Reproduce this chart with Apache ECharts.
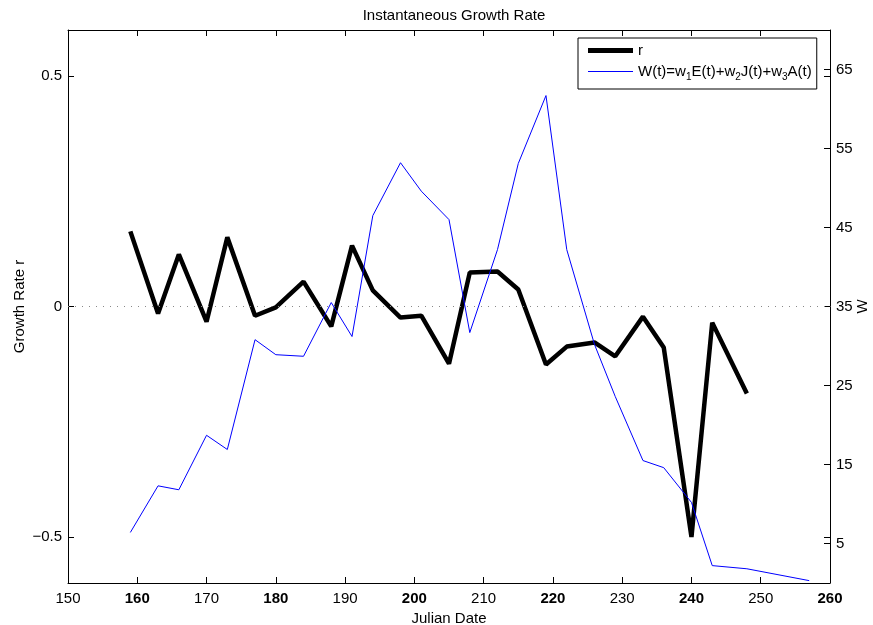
<!DOCTYPE html>
<html><head><meta charset="utf-8">
<script src="https://cdn.jsdelivr.net/npm/echarts@6/dist/echarts.min.js"></script>
<style>html,body{margin:0;padding:0;background:#fff}#c{width:873px;height:625px}</style>
</head><body><div id="c"></div>
<script>
const titleText = 'Instantaneous Growth Rate';
const days = [159,163,166,170,173,177,180,184,188,191,194,198,201,205,208,212,215,219,222,226,229,233,236,240,243,248,257];
const rDays = [159,163,166,170,173,177,180,184,188,191,194,198,201,205,208,212,215,219,222,226,229,233,236,240,243,248];
const rValues = [0.163,-0.015,0.113,-0.033,0.150,-0.020,-0.002,0.054,-0.043,0.132,0.035,-0.024,-0.020,-0.124,0.074,0.076,0.037,-0.126,-0.087,-0.078,-0.108,-0.022,-0.089,-0.500,-0.035,-0.189];
const wValues = [6.4,12.3,11.8,18.7,16.9,30.8,28.9,28.7,35.5,31.2,46.5,53.2,49.6,46.0,31.7,42.2,53.1,61.7,42.2,30.2,23.6,15.5,14.6,10.2,2.2,1.8,0.3];
const leftTicks = [-0.5, 0, 0.5];
const rightTicks = [5, 15, 25, 35, 45, 55, 65];
const rName = 'r';
const wName = 'W(t)=w1E(t)+w2J(t)+w3A(t)';

const FONT = '"Liberation Sans", Arial, Helvetica, sans-serif';
const FS = 15;
const L_MIN = -0.6, L_MAX = 0.6, R_MIN = 0, R_MAX = 70;
// left ticks mirrored on the right axis (as in the reference)
const mirrored = leftTicks.map(v => R_MIN + (v - L_MIN) / (L_MAX - L_MIN) * (R_MAX - R_MIN));

const chart = echarts.init(document.getElementById('c'), null, {renderer: 'canvas'});
const axisCommon = {
  axisLine: {show: true, onZero: false, lineStyle: {color: '#000', width: 1}},
  axisTick: {show: true, inside: true, length: 6, lineStyle: {color: '#000'}},
  splitLine: {show: false},
  nameMoveOverlap: false
};
chart.setOption({
  animation: false,
  backgroundColor: '#fff',
  textStyle: {fontFamily: FONT},
  title: {text: titleText, left: 449, textAlign: 'center', top: 3,
    textStyle: {fontSize: FS, fontWeight: 'normal', color: '#000', fontFamily: FONT}},
  grid: {left: 68, right: 43, top: 30, bottom: 42, outerBoundsMode: 'none', containLabel: false},
  legend: {
    orient: 'vertical', left: 578, top: 38,
    padding: [5, 5, 7, 10], itemGap: 6, itemWidth: 45, itemHeight: 14,
    borderColor: '#000', borderWidth: 1, backgroundColor: '#fff', borderRadius: 0,
    data: [
      {name: rName, icon: 'path://M0,0H45V5H0Z'},
      {name: wName, icon: 'path://M0,0H45V1H0Z'}
    ],
    formatter: n => n === rName ? 'r' : 'W(t)=w{s|1}E(t)+w{s|2}J(t)+w{s|3}A(t)',
    textStyle: {fontSize: FS, color: '#000', fontFamily: FONT,
      rich: {s: {fontSize: 10, padding: [11, 0, 0, 0], fontFamily: FONT, color: '#000'}}}
  },
  xAxis: [
    Object.assign({}, axisCommon, {
      type: 'value', min: 150, max: 260, interval: 10, position: 'bottom',
      name: 'Julian Date', nameLocation: 'middle', nameGap: 28,
      nameTextStyle: {fontSize: FS, color: '#000', fontFamily: FONT},
      axisLabel: {fontSize: FS, color: '#000', margin: 8, fontFamily: FONT,
        formatter: v => (v % 20 === 0 ? '{b|' + v + '}' : String(v)),
        rich: {b: {fontSize: FS, fontWeight: 'bold', color: '#000', fontFamily: FONT}}}
    }),
    Object.assign({}, axisCommon, {
      type: 'value', min: 150, max: 260, interval: 10, position: 'top',
      axisLabel: {show: false}
    })
  ],
  yAxis: [
    Object.assign({}, axisCommon, {
      type: 'value', min: L_MIN, max: L_MAX, position: 'left',
      name: 'Growth Rate r', nameLocation: 'middle', nameGap: 41,
      nameTextStyle: {fontSize: FS, color: '#000', fontFamily: FONT},
      axisTick: {show: true, inside: true, length: 6, lineStyle: {color: '#000'}, customValues: leftTicks},
      axisLabel: {fontSize: FS, color: '#000', margin: 6, fontFamily: FONT, customValues: leftTicks,
        formatter: v => (v < 0 ? '\u2212' + Math.abs(v) : String(v))}
    }),
    Object.assign({}, axisCommon, {
      type: 'value', min: R_MIN, max: R_MAX, position: 'right',
      name: 'W', nameLocation: 'middle', nameGap: 25, nameRotate: 90,
      nameTextStyle: {fontSize: FS, color: '#000', fontFamily: FONT},
      axisTick: {show: true, inside: true, length: 6, lineStyle: {color: '#000'}, customValues: rightTicks.concat(mirrored)},
      axisLabel: {fontSize: FS, color: '#000', margin: 6, fontFamily: FONT, customValues: rightTicks}
    })
  ],
  series: [
    {
      name: rName, type: 'line', xAxisIndex: 0, yAxisIndex: 0, z: 2,
      data: rDays.map((d, i) => [d, rValues[i]]),
      symbol: 'none', lineStyle: {color: '#000', width: 4.5}, itemStyle: {color: '#000'},
      markLine: {silent: true, symbol: 'none', label: {show: false},
        lineStyle: {color: '#888', type: [1, 6], width: 1},
        data: [{yAxis: 0}]}
    },
    {
      name: wName, type: 'line', xAxisIndex: 0, yAxisIndex: 1, z: 3,
      data: days.map((d, i) => [d, wValues[i]]),
      symbol: 'none', lineStyle: {color: '#0000ff', width: 1}, itemStyle: {color: '#0000ff'}
    }
  ]
});
</script></body></html>
